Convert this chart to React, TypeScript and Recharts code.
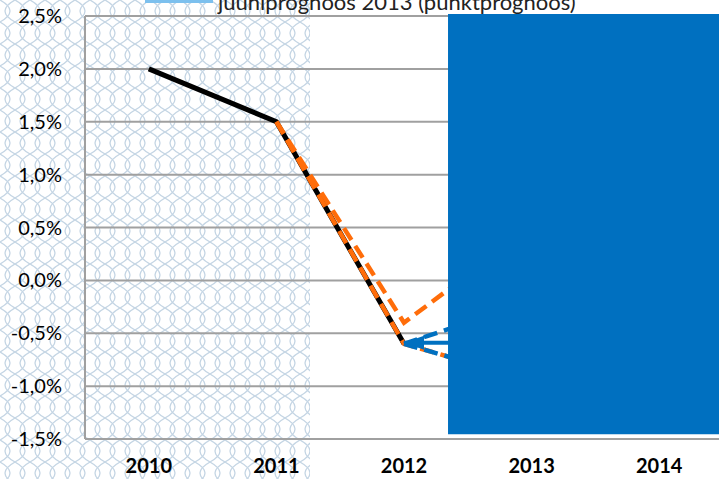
import React from "react"
import { LineChart, Line, XAxis, YAxis, CartesianGrid, ReferenceArea } from "recharts"

// years on the x axis
const years = [2010, 2011, 2012, 2013, 2014]
// actual growth, %
const actual = [2.0, 1.5, -0.6, null, null]
// earlier forecasts (orange dashed)
const forecastHigh = [null, 1.5, -0.4, 0.5, 0.8]
const forecastLow = [null, 1.5, -0.6, -0.95, -0.8]
// forecast range (blue dashed)
const rangeUpper = [null, null, -0.6, -0.2, 0.3]
const rangeLower = [null, null, -0.6, -0.95, -0.9]
// point forecast from June (hidden behind the box)
const juuni = [null, null, null, 0.2, 0.9]
const juuniLabel = "juuniprognoos 2013 (punktprognoos)"
// arrow pointing at the 2012 value
const arrowX = [2012, 2012.35]
const arrowY = -0.59
// covering box
const boxX = [2012.345, 2014.5]
const boxY = [-1.455, 2.52]

const yTicks = [-1.5, -1.0, -0.5, 0, 0.5, 1.0, 1.5, 2.0, 2.5]

const data = years.map((year, i) => ({
  year,
  actual: actual[i],
  forecastHigh: forecastHigh[i],
  forecastLow: forecastLow[i],
  rangeUpper: rangeUpper[i],
  rangeLower: rangeLower[i],
  juuni: juuni[i],
}))

const arrowData = arrowX.map((x) => ({ year: x, arrow: arrowY }))

const FONT = "Lato, 'Open Sans', sans-serif"
const ORANGE = "#FF6D0A"
const BLUE = "#0070C0"
const LIGHTBLUE = "#7cc0ee"
const WAVE = "#c4d5e4"

const fmt = (v: number) => v.toFixed(1).replace(".", ",") + "%"

const ArrowHead = (props: any) => {
  const { cx, cy, index } = props
  if (index !== 0 || cx == null) return <g key={"a" + index} />
  return (
    <path
      key={"a" + index}
      d={`M${cx},${cy} L${cx + 20},${cy - 7} L${cx + 20},${cy + 7} Z`}
      fill={BLUE}
    />
  )
}

const wave = (c: number, flip: number) =>
  `M${c},0 Q${c + 20 * flip},11 ${c},22 Q${c - 20 * flip},33 ${c},44`

export default function App() {
  return (
    <div style={{ position: "absolute", left: 0, top: 0, width: 719, height: 479, overflow: "hidden", background: "#fff" }}>
      <svg width={719} height={479} style={{ position: "absolute", left: 0, top: 0 }}>
        <defs>
          <pattern id="waves" width={15} height={44} patternUnits="userSpaceOnUse">
            {[0, 15].map((c) =>
              [1, -1].map((f) => (
                <path key={c + "_" + f} d={wave(c, f)} fill="none" stroke={WAVE} strokeWidth={1.3} />
              ))
            )}
          </pattern>
        </defs>
        <rect x={0} y={0} width={310} height={479} fill="url(#waves)" />
      </svg>
      <div style={{ position: "absolute", left: 0, top: 0 }}>
        <LineChart width={723} height={479} data={data} margin={{ top: 16, right: 0, bottom: 0, left: 0 }}>
          <CartesianGrid vertical={false} stroke="#a0a0a0" strokeWidth={2} />
          <XAxis
            dataKey="year"
            type="number"
            domain={[2009.5, 2014.5]}
            ticks={years}
            height={40}
            axisLine={{ stroke: "#a0a0a0", strokeWidth: 2 }}
            tickLine={false}
            tickSize={0}
            tickMargin={20}
            tick={{ fill: "#000", fontSize: 20, fontWeight: 700, fontFamily: FONT }}
          />
          <YAxis
            domain={[-1.5, 2.5]}
            ticks={yTicks}
            width={85}
            interval={0}
            axisLine={{ stroke: "#a0a0a0", strokeWidth: 2 }}
            tickLine={false}
            tickSize={0}
            tickMargin={23}
            tickFormatter={fmt}
            tick={{ fill: "#000", fontSize: 20, fontFamily: FONT }}
          />
          <Line dataKey="juuni" name={juuniLabel} stroke={LIGHTBLUE} strokeWidth={4} dot={false} isAnimationActive={false} />
          <Line dataKey="actual" stroke="#000" strokeWidth={5} dot={false} isAnimationActive={false} />
          <Line dataKey="forecastLow" stroke={ORANGE} strokeWidth={4.5} strokeDasharray="14 7" dot={false} isAnimationActive={false} />
          <Line dataKey="forecastHigh" stroke={ORANGE} strokeWidth={4.5} strokeDasharray="14 7" dot={false} isAnimationActive={false} />
          <Line dataKey="rangeUpper" stroke={BLUE} strokeWidth={4.5} strokeDasharray="14 7" dot={false} isAnimationActive={false} />
          <Line dataKey="rangeLower" stroke={BLUE} strokeWidth={4.5} strokeDasharray="14 7" dot={false} isAnimationActive={false} />
          <Line data={arrowData} dataKey="arrow" stroke={BLUE} strokeWidth={4} dot={ArrowHead} activeDot={false} isAnimationActive={false} />
          <ReferenceArea x1={boxX[0]} x2={boxX[1]} y1={boxY[0]} y2={boxY[1]} fill={BLUE} fillOpacity={1} stroke="none" ifOverflow="visible" zIndex={2000} />
        </LineChart>
      </div>
      <svg width={719} height={20} style={{ position: "absolute", left: 0, top: 0 }}>
        <line x1={145} x2={213} y1={1} y2={1} stroke={LIGHTBLUE} strokeWidth={4} />
        <text x={218} y={10} fontFamily={FONT} fontSize={22} fill="#222">
          {juuniLabel}
        </text>
      </svg>
    </div>
  )
}
